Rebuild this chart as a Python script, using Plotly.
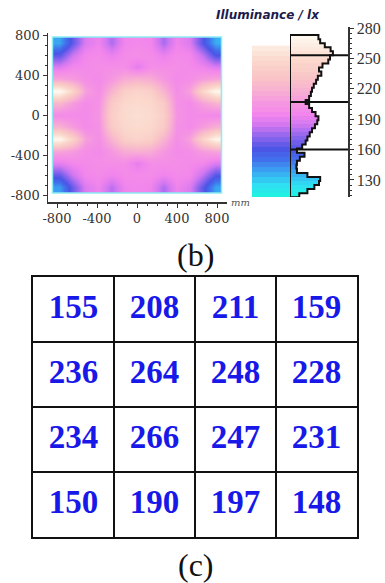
import plotly.graph_objects as go

W, H = 385, 583

# ---------------- data ----------------
# illuminance field (lx), rows follow hm_y (bottom -> top), columns follow hm_x
hm_x = [-780, -650, -520, -390, -260, -130, 0, 130, 260, 390, 520, 650, 780]
hm_y = [-720, -600, -480, -360, -240, -120, 0, 120, 240, 360, 480, 600, 720]
hm_z = [
    [140, 166, 188, 194, 180, 194, 196, 194, 178, 194, 188, 164, 138],
    [165, 184, 196, 198, 194, 198, 198, 198, 194, 198, 196, 182, 162],
    [190, 196, 198, 200, 200, 200, 190, 200, 200, 200, 198, 196, 188],
    [212, 208, 200, 198, 206, 216, 218, 216, 206, 198, 200, 208, 212],
    [270, 244, 210, 200, 220, 240, 244, 240, 220, 200, 210, 244, 268],
    [220, 208, 198, 202, 236, 248, 250, 248, 236, 202, 198, 208, 218],
    [198, 198, 198, 204, 240, 250, 252, 250, 240, 204, 198, 198, 196],
    [222, 208, 198, 202, 236, 248, 250, 248, 236, 202, 198, 210, 220],
    [272, 246, 210, 200, 220, 240, 245, 240, 220, 200, 210, 246, 270],
    [212, 208, 200, 198, 206, 216, 220, 216, 206, 198, 200, 208, 212],
    [188, 196, 198, 200, 200, 200, 189, 200, 200, 200, 198, 194, 188],
    [163, 184, 196, 198, 192, 198, 200, 198, 192, 198, 196, 182, 160],
    [138, 164, 188, 194, 178, 195, 197, 195, 177, 194, 188, 162, 136],
]

# histogram of illuminance (bin centres in lx, relative counts)
hist_lx = [115, 119, 123, 127, 131, 135, 139, 143, 147, 151, 155, 159, 163, 167,
           171, 175, 179, 183, 187, 191, 195, 199, 203, 207, 211, 215, 219, 223,
           227, 231, 235, 239, 243, 247, 251, 255, 259, 263, 267, 271]
hist_count = [16, 30, 42, 50, 52, 30, 12, 11, 12, 17, 25, 12, 21, 27,
              30, 34, 38, 43, 47, 49, 44, 38, 33, 27, 33, 36, 38, 41,
              45, 48, 54, 50, 56, 66, 69, 74, 70, 60, 52, 49]
hist_bin = 4
split_lx = [253, 207, 160]

# colour bar levels
bar_levels = list(range(115, 265, 5))

# axis ticks
xy_tickvals = [-800, -400, 0, 400, 800]
xy_ticktext = ["-800", "-400", "0", "400", "800"]
lx_tickvals = [130, 160, 190, 220, 250, 280]

# table (c)
table_rows = [
    [155, 208, 211, 159],
    [236, 264, 248, 228],
    [234, 266, 247, 231],
    [150, 190, 197, 148],
]

# ---------------- style ----------------
ZMIN, ZMAX = 113, 273
stops = [
    (113, "#1ef5e0"), (125, "#2fdff2"), (138, "#3aa6f2"), (150, "#4270ec"),
    (160, "#4b55e6"), (172, "#8a64ee"), (185, "#d478f0"), (195, "#f286ec"),
    (205, "#f596e2"), (218, "#f8b0d2"), (232, "#f9c6c6"), (248, "#fbd8cc"),
    (262, "#fdede2"), (273, "#fffaf2"),
]
cs = [[(v - ZMIN) / (ZMAX - ZMIN), c] for v, c in stops]

AX = "#333333"
tickfont = dict(family="DejaVu Serif", size=13, color=AX)

fig = go.Figure()

# heatmap (b)
fig.add_trace(go.Heatmap(
    x=hm_x, y=hm_y, z=hm_z, colorscale=cs, zmin=ZMIN, zmax=ZMAX,
    zsmooth="best", showscale=False, xaxis="x", yaxis="y", hoverinfo="skip"))

# colour strip
fig.add_trace(go.Heatmap(
    x=[0], y=bar_levels, z=[[v] for v in bar_levels], colorscale=cs,
    zmin=ZMIN, zmax=ZMAX, showscale=False, xaxis="x2", yaxis="y2", hoverinfo="skip"))

# histogram fill
fig.add_trace(go.Bar(
    orientation="h", y=hist_lx, x=hist_count, width=hist_bin,
    marker=dict(color=hist_lx, colorscale=cs, cmin=ZMIN, cmax=ZMAX, line_width=0),
    xaxis="x3", yaxis="y3", hoverinfo="skip"))

# histogram outline
lo0 = hist_lx[0] - hist_bin / 2
hi_end = hist_lx[-1] + hist_bin / 2
ox, oy = [0], [lo0]
for c, w in zip(hist_lx, hist_count):
    ox += [w, w]
    oy += [c - hist_bin / 2, c + hist_bin / 2]
ox += [0, 0]
oy += [hi_end, lo0]
fig.add_trace(go.Scatter(x=ox, y=oy, mode="lines", line=dict(color="#111", width=2),
                         xaxis="x3", yaxis="y3", hoverinfo="skip"))

# table text
tx, ty, tt = [], [], []
for r, row in enumerate(table_rows):
    for c, v in enumerate(row):
        tx.append(c + 0.5)
        ty.append(len(table_rows) - r - 0.5)
        tt.append(str(v))
fig.add_trace(go.Scatter(
    x=tx, y=ty, text=tt, mode="text", xaxis="x4", yaxis="y4",
    textfont=dict(family="Liberation Serif", size=33, color="#1818e8", weight="bold"),
    hoverinfo="skip"))

shapes = []
for v in split_lx:
    shapes.append(dict(type="line", xref="x3", yref="y3", x0=0, x1=100, y0=v, y1=v,
                       line=dict(color="#111", width=2)))
dx = hm_x[1] - hm_x[0]
dy = hm_y[1] - hm_y[0]
shapes.append(dict(type="rect", xref="x", yref="y",
                   x0=hm_x[0] - dx / 2, x1=hm_x[-1] + dx / 2,
                   y0=hm_y[0] - dy / 2, y1=hm_y[-1] + dy / 2,
                   line=dict(color="#8cecf2", width=1.5)))

def dom_x(a, b):
    return [a / W, b / W]

def dom_y(top, bottom):
    return [1 - bottom / H, 1 - top / H]

lx_range = [113.2, 281]
lx_dom = dom_y(27, 197)

def ann(text, px, py, font):
    return dict(text=text, x=px / W, y=1 - py / H, xref="paper", yref="paper",
                xanchor="center", yanchor="middle", showarrow=False, font=font)

fig.update_layout(
    width=W, height=H, margin=dict(l=0, r=0, t=0, b=0, autoexpand=False),
    paper_bgcolor="white", plot_bgcolor="white", showlegend=False, bargap=0,
    shapes=shapes,
    xaxis=dict(domain=dom_x(48, 227), range=[-890, 900], anchor="y", automargin=False,
               showline=True, linecolor=AX, linewidth=1.5, ticks="outside",
               ticklen=4, tickcolor=AX, tickvals=xy_tickvals, ticktext=xy_ticktext,
               tickfont=tickfont, showgrid=False, zeroline=False,
               minor=dict(tickvals=list(range(-800, 801, 100)), ticks="outside",
                          ticklen=2, tickcolor=AX)),
    yaxis=dict(domain=dom_y(33, 202), range=[-870, 820], anchor="x", automargin=False,
               showline=True, linecolor=AX, linewidth=1.5, ticks="outside",
               ticklen=4, tickcolor=AX, tickvals=xy_tickvals, ticktext=xy_ticktext,
               tickfont=tickfont, showgrid=False, zeroline=False,
               minor=dict(tickvals=list(range(-800, 801, 100)), ticks="outside",
                          ticklen=2, tickcolor=AX)),
    xaxis2=dict(domain=dom_x(252, 290), range=[-0.5, 0.5], anchor="y2", visible=False,
                automargin=False),
    yaxis2=dict(domain=lx_dom, range=lx_range, anchor="x2", visible=False,
                automargin=False),
    xaxis3=dict(domain=dom_x(290, 348), range=[0, 100], anchor="y3", visible=False,
                automargin=False),
    yaxis3=dict(domain=lx_dom, range=lx_range, anchor="x3", side="right", automargin=False,
                showline=True, linecolor=AX, linewidth=1.5, ticks="outside",
                ticklen=4, tickcolor=AX, tickvals=lx_tickvals,
                tickfont=dict(family="Liberation Serif", size=16, color=AX),
                showgrid=False, zeroline=False,
                minor=dict(tickvals=list(range(115, 281, 5)), ticks="outside",
                           ticklen=2, tickcolor=AX)),
    xaxis4=dict(domain=dom_x(33, 357), range=[0, 4], anchor="y4", dtick=1, tick0=0,
                showgrid=True, gridcolor="#111", gridwidth=2, showline=True,
                linecolor="#111", linewidth=2, mirror=True, showticklabels=False,
                ticks="", zeroline=False, automargin=False),
    yaxis4=dict(domain=dom_y(277, 537), range=[0, 4], anchor="x4", dtick=1, tick0=0,
                showgrid=True, gridcolor="#111", gridwidth=2, showline=True,
                linecolor="#111", linewidth=2, mirror=True, showticklabels=False,
                ticks="", zeroline=False, automargin=False),
    annotations=[
        ann("<b><i>Illuminance / lx</i></b>", 268, 15,
            dict(family="DejaVu Sans", size=12, color="#1c1c4c")),
        ann("<i>mm</i>", 240, 203, dict(family="DejaVu Serif", size=10, color="#555")),
        ann("(b)", 196, 255, dict(family="Liberation Serif", size=32, color="#111")),
        ann("(c)", 196, 565, dict(family="Liberation Serif", size=32, color="#111")),
    ],
)

fig.write_html(
    "out.html",
    config={"displayModeBar": False, "staticPlot": True},
    post_script="document.body.style.margin='0';document.body.style.overflow='hidden';",
)
